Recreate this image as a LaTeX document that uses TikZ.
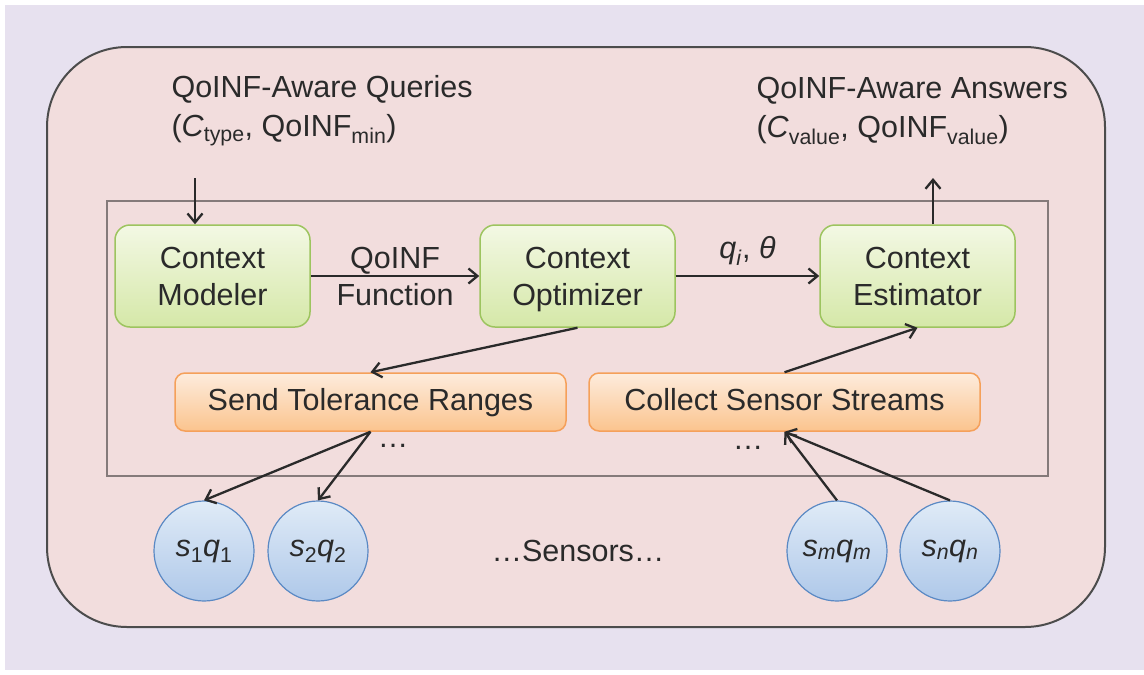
\documentclass[tikz,border=0pt]{standalone}
\usepackage{fontspec}
\setmainfont{Liberation Sans}
\usetikzlibrary{arrows.meta}
\definecolor{lavbg}{HTML}{E7E1EF}
\definecolor{pinkbg}{HTML}{F2DDDD}
\definecolor{txtc}{HTML}{2A2A2A}
\definecolor{grnlo}{HTML}{D5E8A8}
\definecolor{grnhi}{HTML}{F3F8E4}
\definecolor{grnln}{HTML}{9DC45F}
\definecolor{orglo}{HTML}{FBC48E}
\definecolor{orghi}{HTML}{FDECDD}
\definecolor{orgln}{HTML}{F5A05A}
\definecolor{blulo}{HTML}{AEC8E9}
\definecolor{bluhi}{HTML}{E0EBF7}
\definecolor{bluln}{HTML}{5A89C4}
\newcommand\ctxtwo[2]{\rule{0pt}{28.6pt}#1\\#2\vphantom{p}}
\begin{document}
\begin{tikzpicture}[x=1pt,y=-1pt,
  every node/.style={font=\fontsize{30.5}{37}\selectfont,text=txtc},
  ctxbox/.style={draw=grnln,line width=1.5pt,rounded corners=15pt,top color=grnhi,bottom color=grnlo,minimum width=195pt,minimum height=102pt,inner sep=0pt,align=center},
  opbox/.style={draw=orgln,line width=1.5pt,rounded corners=10pt,top color=orghi,bottom color=orglo,minimum width=391pt,minimum height=58pt,inner sep=0pt,text height=22pt,text depth=6pt},
  sensor/.style={circle,draw=bluln,line width=1.2pt,top color=bluhi,bottom color=blulo,minimum size=100pt,inner sep=0pt},
  arr/.style={draw=txtc,line width=2.3pt,-{Straight Barb[length=9pt,width=15pt,line width=2.3pt]}}]
\useasboundingbox (0,0) rectangle (1144,675);
\fill[lavbg] (5,5) rectangle (1144,670);
\draw[draw=black!70,line width=2pt,fill=pinkbg,rounded corners=80pt] (47,47) rectangle (1105,627);
\draw[draw=black!45!pinkbg,line width=2.5pt] (107,201) rectangle (1048,476);
\node[anchor=west,align=left,font=\fontsize{30.5}{39}\selectfont] (qry) at (168,111) {QoINF-Aware Queries\\(\textit{C}\textsubscript{type}, QoINF\textsubscript{min})};
\node[anchor=west,align=left,font=\fontsize{30.5}{39}\selectfont] (ans) at (753,111) {QoINF-Aware Answers\\(\textit{C}\textsubscript{value}, QoINF\textsubscript{value})};
\node[ctxbox] (cm) at (212.5,276) {\ctxtwo{Context}{Modeler}};
\node[ctxbox] (co) at (577.5,276) {\ctxtwo{Context}{Optimizer}};
\node[ctxbox] (ce) at (917.5,276) {\ctxtwo{Context}{Estimator}};
\node[opbox] (send) at (370.5,402) {Send Tolerance Ranges};
\node[opbox] (coll) at (784.5,402) {Collect Sensor Streams};
\node (dots1) at (393,446) {\ldots};
\node (dots2) at (748,448) {\ldots};
\node[sensor] (s1) at (204,551) {\textit{s}\textsubscript{1}\textit{q}\textsubscript{1}};
\node[sensor] (s2) at (318,551) {\textit{s}\textsubscript{2}\textit{q}\textsubscript{2}};
\node[sensor] (sm) at (837,551) {\textit{s}\textsubscript{\textit{m}}\textit{q}\textsubscript{\textit{m}}};
\node[sensor] (sn) at (950,551) {\textit{s}\textsubscript{\textit{n}}\textit{q}\textsubscript{\textit{n}}};
\node (sens) at (578,551) {\ldots Sensors\ldots};
\coordinate (qin) at (195,178);
\coordinate (aout) at (933,178);
\draw[arr] (qin) -- (qin |- cm.north);
\draw[arr] (aout |- ce.north) -- (aout);
\draw[arr] (cm.east) -- node[align=center] {QoINF\\Function} (co.west);
\draw[arr] (co.east) -- node[above=6pt] {\textit{q}\textsubscript{\textit{i}}, \textit{θ}} (ce.west);
\draw[arr] (co.south) -- (send.north);
\draw[arr] (coll.north) -- (ce.south);
\draw[arr] (send.south) -- (s1.north);
\draw[arr] (send.south) -- (s2.north);
\draw[arr] (sm.north) -- (coll.south);
\draw[arr] (sn.north) -- (coll.south);
\end{tikzpicture}
\end{document}
